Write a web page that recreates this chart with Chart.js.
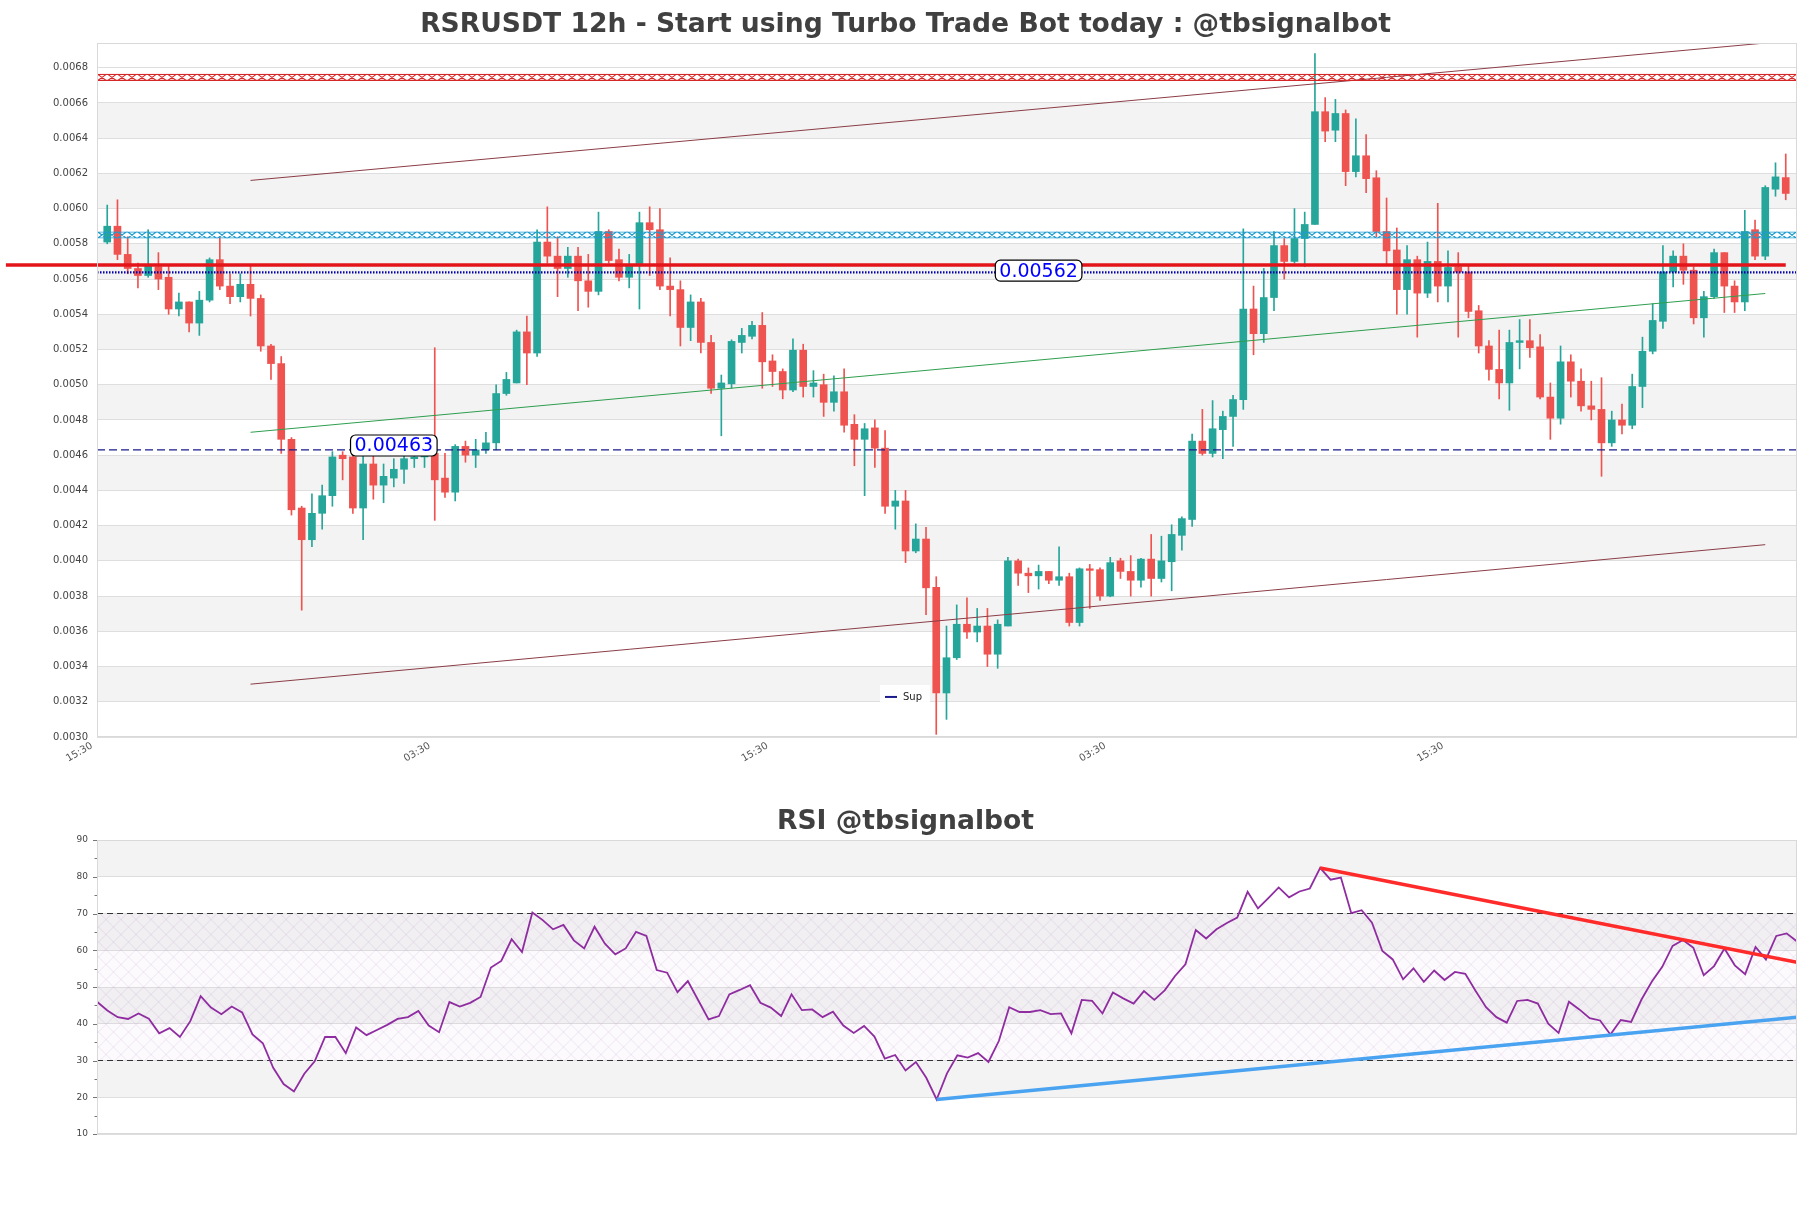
<!DOCTYPE html>
<html>
<head>
<meta charset="utf-8">
<script src="https://cdn.jsdelivr.net/npm/chart.js@4.4.1/dist/chart.umd.min.js"></script>
<style>
    html, body { margin: 0; padding: 0; background: #fff; }
    body { width: 1811px; height: 1208px; position: relative; overflow: hidden; }
    #price-wrap { position: absolute; left: 0; top: 0; }
    #rsi-wrap { position: absolute; left: 0; top: 790px; }
</style>
</head>
<body>
<div id="price-wrap"><canvas id="price-chart" width="1811" height="790"></canvas></div>
<div id="rsi-wrap"><canvas id="rsi-chart" width="1811" height="418"></canvas></div>
<script>
// candles
const opens = [
    0.00581,0.0059,0.00574,0.00566,0.00562,0.00567,0.00561,0.00543,0.00547,0.00535,
    0.00548,0.00571,0.00556,0.0055,0.00557,0.00549,0.00522,0.00512,0.00469,0.0043,
    0.00412,0.00427,0.00437,0.0046,0.00459,0.0043,0.00455,0.00443,0.00447,0.00452,
    0.00458,0.00459,0.00461,0.00447,0.00439,0.00465,0.0046,0.00463,0.00467,0.00495,
    0.00501,0.0053,0.00518,0.00581,0.00573,0.00566,0.00573,0.00559,0.00553,0.00587,
    0.00571,0.00561,0.00568,0.00592,0.00588,0.00556,0.00554,0.005325,0.00547,0.00524,
    0.00498,0.005005,0.00524,0.005275,0.005337,0.005135,0.005075,0.00497,0.005196,0.00499,
    0.005,0.0049,0.00496,0.004775,0.00469,0.004755,0.00464,0.00431,0.00434,0.004056,
    0.004124,0.00385,0.00325,0.00345,0.00364,0.003596,0.00363,0.00347,0.00363,0.004,
    0.00393,0.003915,0.00394,0.00389,0.00391,0.00365,0.003955,0.00395,0.0038,0.004,
    0.00394,0.00389,0.00401,0.0039,0.003995,0.004145,0.004235,0.00468,0.00461,0.004745,
    0.00482,0.004915,0.00543,0.00529,0.005495,0.00579,0.0057,0.00583,0.00591,0.00655,
    0.006445,0.00654,0.00621,0.0063,0.006175,0.00587,0.005765,0.00554,0.00571,0.00552,
    0.0057,0.00556,0.00567,0.00564,0.00542,0.00522,0.005087,0.00501,0.00524,0.00525,
    0.005215,0.00493,0.00481,0.00513,0.00502,0.00488,0.00486,0.00467,0.0048,0.00477,
    0.00499,0.00519,0.00536,0.00564,0.00573,0.00565,0.00538,0.0055,0.00575,0.00556,
    0.00547,0.00588,0.00573,0.00611,0.006176
];
const highs = [
    0.00602,0.00605,0.00584,0.00569,0.00588,0.00575,0.00568,0.00552,0.00547,0.00553,
    0.00572,0.00584,0.00563,0.00563,0.00568,0.00551,0.00523,0.00516,0.0047,0.00431,
    0.00438,0.00443,0.00462,0.00462,0.00461,0.0046,0.0046,0.00455,0.00458,0.00462,
    0.00461,0.00461,0.00521,0.00461,0.00466,0.00468,0.00469,0.00473,0.005,0.00507,
    0.00531,0.00539,0.00588,0.00601,0.00584,0.00578,0.00578,0.00574,0.00598,0.00588,
    0.00577,0.00574,0.00598,0.00601,0.006,0.00572,0.00559,0.00551,0.00549,0.00528,
    0.005055,0.005255,0.00532,0.00536,0.00541,0.00517,0.00509,0.00526,0.00523,0.00508,
    0.00506,0.00505,0.00509,0.00483,0.00478,0.0048,0.00474,0.0044,0.0044,0.00421,
    0.00419,0.00391,0.00363,0.00375,0.00379,0.00373,0.00373,0.003665,0.00402,0.00401,
    0.00396,0.003976,0.00394,0.00408,0.00393,0.00396,0.00398,0.00396,0.00402,0.004015,
    0.00403,0.004015,0.00415,0.00414,0.004205,0.00425,0.00472,0.00486,0.00491,0.00485,
    0.00494,0.005885,0.00556,0.00566,0.00587,0.00583,0.006,0.00598,0.00688,0.00663,
    0.00662,0.00656,0.00651,0.00642,0.006215,0.00606,0.00589,0.00579,0.00573,0.00581,
    0.00603,0.00576,0.00575,0.00568,0.00545,0.00525,0.00531,0.00531,0.00537,0.00537,
    0.005285,0.00501,0.00522,0.00517,0.00509,0.00502,0.00504,0.00485,0.00489,0.00506,
    0.00527,0.00546,0.00579,0.00576,0.0058,0.00567,0.00553,0.00577,0.00575,0.00559,
    0.00599,0.005935,0.00613,0.00626,0.00631
];
const lows = [
    0.0058,0.00571,0.00563,0.00555,0.00561,0.00554,0.0054,0.00539,0.0053,0.00528,
    0.00547,0.00554,0.00546,0.00547,0.00539,0.00519,0.00503,0.00461,0.00426,0.00372,
    0.00408,0.00418,0.00431,0.00446,0.00427,0.00412,0.00435,0.00433,0.00442,0.00444,
    0.00453,0.00453,0.00423,0.00436,0.00434,0.00456,0.00453,0.00461,0.00463,0.00494,
    0.00501,0.005,0.00516,0.00569,0.0055,0.00561,0.00542,0.00544,0.00551,0.00569,
    0.00559,0.00555,0.00543,0.00562,0.00554,0.00539,0.00522,0.00525,0.00518,0.00495,
    0.00471,0.00498,0.00518,0.00526,0.00498,0.00499,0.00492,0.00496,0.00493,0.00493,
    0.00482,0.00485,0.00473,0.00454,0.00437,0.00453,0.00427,0.00418,0.00399,0.004046,
    0.003695,0.003015,0.0031,0.00344,0.00356,0.00354,0.0034,0.00339,0.00363,0.00386,
    0.00382,0.00384,0.00387,0.00386,0.00363,0.00363,0.00373,0.003775,0.003796,0.0039,
    0.0038,0.00385,0.0038,0.00388,0.00383,0.00406,0.004195,0.0046,0.00459,0.00458,
    0.00465,0.00486,0.00517,0.00524,0.00542,0.0056,0.00569,0.00567,0.00591,0.00638,
    0.00638,0.00613,0.00618,0.00609,0.00584,0.005685,0.0054,0.0054,0.00527,0.005495,
    0.00547,0.00547,0.00527,0.00538,0.00518,0.005026,0.00492,0.004855,0.00509,0.005155,
    0.00492,0.00469,0.004776,0.00493,0.00485,0.0048,0.00448,0.00465,0.00472,0.00475,
    0.00487,0.005175,0.00532,0.005555,0.00557,0.005345,0.00527,0.00549,0.00541,0.00541,
    0.00542,0.00571,0.00571,0.00607,0.00605
];
const closes = [
    0.0059,0.00574,0.00566,0.00562,0.00568,0.0056,0.00543,0.00547,0.00535,0.00548,
    0.00571,0.00556,0.0055,0.00557,0.00549,0.00522,0.00512,0.00469,0.00429,0.00412,
    0.00427,0.00437,0.00459,0.00458,0.0043,0.00455,0.00443,0.00448,0.00452,0.00458,
    0.00459,0.004605,0.00446,0.00439,0.00465,0.0046,0.00463,0.00467,0.00495,0.00503,
    0.0053,0.00518,0.00581,0.00573,0.00566,0.00573,0.00559,0.00553,0.00587,0.005705,
    0.00561,0.00568,0.00592,0.00588,0.00556,0.00554,0.005325,0.00547,0.00524,0.00498,
    0.00501,0.005246,0.00528,0.005337,0.00513,0.005075,0.00497,0.005196,0.00499,0.00501,
    0.0049,0.00496,0.00477,0.00469,0.00475,0.00464,0.00431,0.00434,0.004056,0.004124,
    0.003847,0.00325,0.00345,0.00364,0.003596,0.00363,0.00347,0.00364,0.004,0.00393,
    0.003915,0.00394,0.00389,0.00391,0.00365,0.003955,0.003946,0.0038,0.00399,0.00394,
    0.00389,0.00401,0.0039,0.004,0.00415,0.00424,0.00468,0.00461,0.00475,0.00482,
    0.004916,0.00543,0.00529,0.005495,0.00579,0.0057,0.00583,0.00591,0.00655,0.00644,
    0.00654,0.00621,0.0063,0.00617,0.00587,0.00576,0.00554,0.00571,0.00552,0.0057,
    0.00556,0.005666,0.00564,0.005416,0.00522,0.005087,0.00501,0.00524,0.00525,0.00521,
    0.00493,0.00481,0.00513,0.00502,0.00488,0.00486,0.00467,0.0048,0.00477,0.00499,
    0.00519,0.005365,0.00564,0.00573,0.00565,0.00538,0.0055,0.00575,0.00556,0.00547,
    0.00587,0.00573,0.00612,0.00618,0.006086
];

const rsiValues = [
    46.0,43.6,41.8,41.3,42.8,41.4,37.4,38.8,36.4,40.7,47.5,44.4,42.6,44.7,43.1,37.1,34.7,28.0,23.6,21.6,
    26.4,29.8,36.4,36.4,32.0,39.0,36.9,38.3,39.7,41.3,41.8,43.5,39.5,37.7,45.9,44.7,45.7,47.3,55.3,57.1,
    63.0,59.5,70.3,68.2,65.7,66.9,62.7,60.5,66.4,61.8,58.9,60.5,65.0,63.9,54.6,53.9,48.6,51.6,46.4,41.2,
    42.1,48.0,49.2,50.5,45.7,44.4,42.1,48.0,43.7,43.9,41.8,43.3,39.5,37.5,39.4,36.5,30.5,31.5,27.3,29.6,
    25.3,19.4,26.5,31.4,30.8,32.0,29.6,35.3,44.5,43.2,43.2,43.7,42.6,42.8,37.4,46.5,46.2,42.8,48.5,46.9,
    45.5,48.9,46.5,49.1,53.0,56.2,65.5,63.2,65.7,67.4,68.9,75.9,71.4,74.2,77.1,74.4,76.0,76.8,82.4,79.2,
    79.8,70.1,70.9,67.5,59.8,57.5,52.1,55.1,51.4,54.5,51.9,54.1,53.6,48.9,44.5,41.8,40.3,46.2,46.5,45.5,
    40.0,37.5,46.0,43.9,41.5,40.9,37.1,41.0,40.5,46.6,51.5,55.5,61.2,62.8,60.7,53.2,55.7,60.5,55.9,53.5,
    60.9,57.5,63.9,64.6,62.4
];

// axes
const xTickPos = [-1, 32, 65, 98, 131];
const xTickLabels = ['15:30', '03:30', '15:30', '03:30', '15:30'];
const priceTicks = [0.0030, 0.0032, 0.0034, 0.0036, 0.0038, 0.0040, 0.0042, 0.0044, 0.0046, 0.0048,
    0.0050, 0.0052, 0.0054, 0.0056, 0.0058, 0.0060, 0.0062, 0.0064, 0.0066, 0.0068];
const rsiTicks = [10, 20, 30, 40, 50, 60, 70, 80, 90];

// levels and trend lines
const resistZone = [0.006725, 0.006765];
const pivotZone = [0.00583, 0.00587];
const redLevel = 0.00568;
const dottedLevel = 0.005638;
const supLevel = 0.00463;
const upperChannel = [[14, 0.00616], [162, 0.00694]];
const lowerChannel = [[14, 0.0033], [162, 0.004092]];
const midTrend = [[14, 0.00473], [162, 0.005518]];
const levelLabels = [
    { text: '0.00562', x: 91, y: 0.005648 },
    { text: '0.00463', x: 28, y: 0.004655 }
];
const rsiDownTrend = [[118, 82.4], [164, 56.7]];
const rsiUpTrend = [[81, 19.4], [164, 41.8]];
const rsiLevels = [30, 70];

const GREEN = '#26a69a';
const RED = '#ef5350';

Chart.defaults.font.family = "'DejaVu Sans', sans-serif";
Chart.defaults.color = '#444';

const index = opens.map((o, i) => i);
const candleColors = index.map(i => closes[i] >= opens[i] ? GREEN : RED);
const wickData = index.map(i => ({ x: i, y: [lows[i], highs[i]] }));
const bodyData = index.map(i => ({ x: i, y: [opens[i], closes[i]] }));

const segment = pts => pts.map(p => ({ x: p[0], y: p[1] }));
const level = (v, from, to) => [{ x: from, y: v }, { x: to, y: v }];

function lineSet(data, color, width, extra) {
    return Object.assign({
        type: 'line', data: data, borderColor: color, borderWidth: width,
        pointRadius: 0, fill: false, tension: 0, order: 0
    }, extra || {});
}

// x-hatch inside a horizontal strip
function hatch(ctx, left, right, top, bottom, color, run, step, width, edges) {
    ctx.save();
    ctx.beginPath();
    ctx.rect(left, top, right - left, bottom - top);
    ctx.clip();
    ctx.strokeStyle = color;
    ctx.lineWidth = width;
    ctx.beginPath();
    for (let x = left - run; x < right + run; x += step) {
        ctx.moveTo(x, bottom); ctx.lineTo(x + run, top);
        ctx.moveTo(x, top); ctx.lineTo(x + run, bottom);
    }
    if (edges) {
        ctx.moveTo(left, top + 0.5); ctx.lineTo(right, top + 0.5);
        ctx.moveTo(left, bottom - 0.5); ctx.lineTo(right, bottom - 0.5);
    }
    ctx.stroke();
    ctx.restore();
}

// grey on every other interval between ticks
function shadeBands(chart, ticks) {
    const { ctx, chartArea: a, scales: { y } } = chart;
    ctx.save();
    ctx.fillStyle = '#f3f3f3';
    for (let i = 1; i < ticks.length - 1; i += 2) {
        const top = y.getPixelForValue(ticks[i + 1]);
        const bottom = y.getPixelForValue(ticks[i]);
        ctx.fillRect(a.left, top, a.right - a.left, bottom - top);
    }
    ctx.restore();
}

function frame(chart) {
    const { ctx, chartArea: a } = chart;
    ctx.save();
    ctx.strokeStyle = '#d9d9d9';
    ctx.lineWidth = 1;
    ctx.strokeRect(a.left + 0.5, a.top + 0.5, a.right - a.left - 1, a.bottom - a.top - 1);
    ctx.restore();
}

const pricePlugin = {
    id: 'pricePlugin',
    beforeDraw(chart) {
        shadeBands(chart, priceTicks);
    },
    afterDatasetsDraw(chart) {
        const { ctx, chartArea: a, scales: { y } } = chart;
        hatch(ctx, a.left, a.right, y.getPixelForValue(resistZone[1]), y.getPixelForValue(resistZone[0]),
            '#d62728', 10, 10, 1.1, true);
        hatch(ctx, a.left, a.right, y.getPixelForValue(pivotZone[1]), y.getPixelForValue(pivotZone[0]),
            '#1f9bd0', 10, 10, 1.1, true);
    },
    afterDraw(chart) {
        const { ctx, chartArea: a, scales: { x, y } } = chart;
        frame(chart);
        ctx.save();
        levelLabels.forEach(l => {
            const cx = x.getPixelForValue(l.x);
            const cy = y.getPixelForValue(l.y);
            ctx.font = "19px 'DejaVu Sans'";
            const w = ctx.measureText(l.text).width + 8;
            const h = 21;
            ctx.beginPath();
            ctx.roundRect(cx - w / 2, cy - h / 2, w, h, 5);
            ctx.fillStyle = '#fff';
            ctx.fill();
            ctx.strokeStyle = '#000';
            ctx.lineWidth = 1.2;
            ctx.stroke();
            ctx.fillStyle = '#0000ff';
            ctx.textAlign = 'center';
            ctx.textBaseline = 'middle';
            ctx.fillText(l.text, cx, cy + 1);
        });
        // legend
        const lx = a.left + (a.right - a.left) * 0.4606;
        const ly = a.top + (a.bottom - a.top) * 0.925;
        ctx.fillStyle = 'rgba(255,255,255,0.9)';
        ctx.fillRect(lx, ly, 50, 23);
        ctx.strokeStyle = '#1a1a8c';
        ctx.lineWidth = 2;
        ctx.beginPath();
        ctx.moveTo(lx + 5, ly + 12);
        ctx.lineTo(lx + 17, ly + 12);
        ctx.stroke();
        ctx.fillStyle = '#222';
        ctx.font = "10px 'DejaVu Sans'";
        ctx.textAlign = 'left';
        ctx.textBaseline = 'middle';
        ctx.fillText('Sup', lx + 23, ly + 12);
        ctx.restore();
    }
};

new Chart(document.getElementById('price-chart'), {
    type: 'bar',
    data: {
        datasets: [
            { label: 'wicks', data: wickData, backgroundColor: candleColors, barThickness: 1,
              grouped: false, order: 3 },
            { label: 'bodies', data: bodyData, backgroundColor: candleColors, barThickness: 7,
              grouped: false, minBarLength: 1, order: 2 },
            lineSet(segment(upperChannel), '#8b3d46', 1),
            lineSet(segment(lowerChannel), '#8b3d46', 1),
            lineSet(segment(midTrend), '#2e9e4e', 1),
            lineSet(level(supLevel, -1, 165.1), '#1a1a8c', 1.3, { borderDash: [8, 4] }),
            lineSet(level(dottedLevel, -1, 165.1), '#0000aa', 2.2, { borderDash: [1.5, 1.5] }),
            lineSet(level(redLevel, -9.9, 164), '#e3151a', 3.5,
                { clip: { left: 100, top: 2, right: 2, bottom: 2 } })
        ]
    },
    options: {
        responsive: false,
        animation: false,
        events: [],
        layout: { padding: { left: 14, right: 14, top: 0, bottom: 0 } },
        plugins: {
            legend: { display: false },
            tooltip: { enabled: false },
            title: {
                display: true,
                text: 'RSRUSDT 12h - Start using Turbo Trade Bot today : @tbsignalbot',
                font: { size: 26.6, weight: 'bold' },
                color: '#404040',
                padding: { top: 9, bottom: 2.1 }
            }
        },
        scales: {
            x: {
                type: 'linear', min: -1, max: 165.1, offset: false,
                grid: { display: false, drawTicks: false }, border: { display: false },
                afterBuildTicks: s => { s.ticks = xTickPos.map(v => ({ value: v })); },
                afterFit: s => { s.height = 53; },
                ticks: {
                    autoSkip: false, minRotation: 30, maxRotation: 30, padding: 3, labelOffset: -5,
                    font: { size: 10 }, color: '#555',
                    callback: (v, i) => xTickLabels[i]
                }
            },
            y: {
                type: 'linear', min: 0.0030, max: 0.00694,
                afterBuildTicks: s => { s.ticks = priceTicks.map(v => ({ value: v })); },
                afterFit: s => { s.width = 83; },
                grid: { color: '#dedede', drawTicks: false },
                border: { display: false },
                ticks: { padding: 9, font: { size: 10 }, color: '#444', callback: v => v.toFixed(4) }
            }
        }
    },
    plugins: [pricePlugin]
});

const rsiPlugin = {
    id: 'rsiPlugin',
    beforeDraw(chart) {
        shadeBands(chart, rsiTicks);
    },
    beforeDatasetsDraw(chart) {
        const { ctx, chartArea: a, scales: { y } } = chart;
        const top = y.getPixelForValue(rsiLevels[1]);
        const bottom = y.getPixelForValue(rsiLevels[0]);
        ctx.save();
        ctx.fillStyle = 'rgba(215,190,230,0.08)';
        ctx.fillRect(a.left, top, a.right - a.left, bottom - top);
        ctx.restore();
        hatch(ctx, a.left, a.right, top, bottom, 'rgba(175,150,195,0.30)', bottom - top, 15, 0.7, false);
    },
    afterDraw(chart) {
        const { ctx, chartArea: a, scales: { y } } = chart;
        frame(chart);
        ctx.save();
        ctx.strokeStyle = '#777';
        ctx.lineWidth = 1;
        ctx.beginPath();
        for (let v = rsiTicks[0]; v <= rsiTicks[rsiTicks.length - 1]; v += 5) {
            const py = Math.round(y.getPixelForValue(v)) + 0.5;
            const len = v % 10 === 0 ? 4 : 2.5;
            ctx.moveTo(a.left - len, py);
            ctx.lineTo(a.left, py);
        }
        ctx.stroke();
        ctx.restore();
    }
};

new Chart(document.getElementById('rsi-chart'), {
    type: 'line',
    data: {
        datasets: [
            lineSet(rsiValues.map((v, i) => ({ x: i, y: v })), '#8e2ca0', 1.8, { order: 1 }),
            lineSet(segment(rsiDownTrend), '#ff2a2a', 3.5),
            lineSet(segment(rsiUpTrend), '#4aa3f0', 3.5),
            lineSet(level(rsiLevels[0], 0, 164), '#333', 1.2, { borderDash: [6, 4], order: 2 }),
            lineSet(level(rsiLevels[1], 0, 164), '#333', 1.2, { borderDash: [6, 4], order: 2 })
        ]
    },
    options: {
        responsive: false,
        animation: false,
        events: [],
        layout: { padding: { left: 14, right: 14, top: 0, bottom: 74 } },
        plugins: {
            legend: { display: false },
            tooltip: { enabled: false },
            title: {
                display: true,
                text: 'RSI @tbsignalbot',
                font: { size: 26.6, weight: 'bold' },
                color: '#404040',
                padding: { top: 16, bottom: 2.1 }
            }
        },
        scales: {
            x: { type: 'linear', min: 0, max: 164, display: false },
            y: {
                type: 'linear', min: 10, max: 90,
                afterBuildTicks: s => { s.ticks = rsiTicks.map(v => ({ value: v })); },
                afterFit: s => { s.width = 83; },
                grid: { color: '#dedede', drawTicks: false },
                border: { display: false },
                ticks: { padding: 9, font: { size: 9 }, color: '#444' }
            }
        }
    },
    plugins: [rsiPlugin]
});
</script>
</body>
</html>
